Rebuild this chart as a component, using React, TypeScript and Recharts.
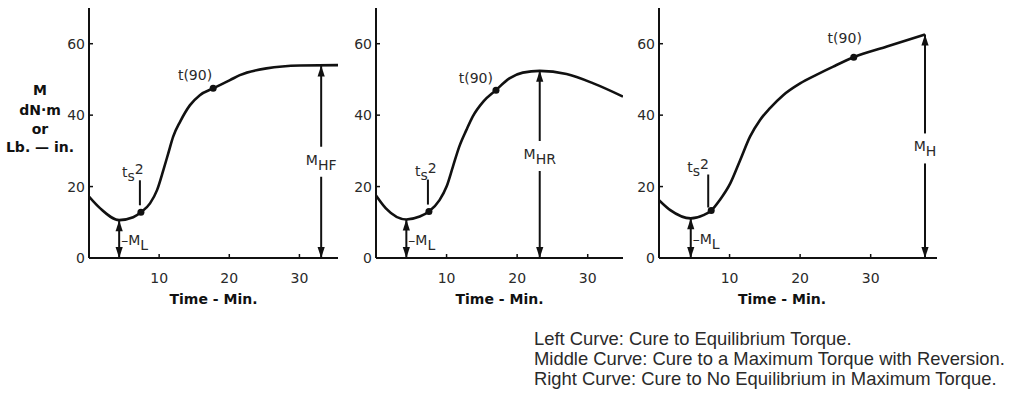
import React from "react";
import { LineChart, Line, XAxis, YAxis, ReferenceLine, ReferenceDot } from "recharts";

// left curve: cure to equilibrium torque
const timeLeft = [0, 1.6, 4.3, 6.3, 7.4, 8.7, 9.7, 10.6, 11.3, 12.0, 13.0, 14.4, 15.8, 17.7, 20.1, 21.5, 25.3, 30.1, 35.5];
const torqueLeft = [17.2, 13.9, 10.6, 11.4, 12.8, 15.3, 19.0, 24.6, 29.3, 34.0, 38.2, 42.8, 45.6, 47.5, 49.8, 51.2, 53.1, 53.9, 54];

// middle curve: maximum torque with reversion
const timeMid = [0, 1.4, 4.3, 6.2, 7.5, 9.0, 10.0, 10.9, 11.8, 12.8, 13.7, 15.2, 17.0, 18.9, 20.8, 23.2, 27, 30.8, 35];
const torqueMid = [17.5, 13.9, 10.8, 11.6, 13, 16.2, 20.0, 25.6, 31.2, 35.8, 39.6, 43.8, 47.0, 50.3, 51.9, 52.4, 51.5, 48.9, 45.2];

// right curve: no equilibrium
const timeRight = [0, 1.6, 4.5, 6.3, 7.4, 8.6, 10.1, 11.5, 12.9, 14.3, 15.7, 17.6, 20.0, 22.3, 24.7, 27.6, 32.3, 37.7];
const torqueRight = [16.2, 13.4, 11.1, 12, 13.3, 16.2, 20.9, 27.4, 34.0, 38.6, 41.9, 45.6, 48.9, 51.3, 53.6, 56.2, 59.2, 62.6];

const yTicks = [0, 20, 40, 60];
const xTicks = [10, 20, 30];
const timeMax = [35.5, 35, 39.4];

// [time, torque] of the marked points
const ts2Points = [[7.4, 12.8], [7.5, 13], [7.4, 13.3]];
const t90Points = [[17.7, 47.5], [17.0, 47.0], [27.6, 56.2]];
const minPoints = [[4.3, 10.6], [4.3, 10.8], [4.5, 11.1]];
const mhArrows = [[33.1, 53.9], [23.2, 52.4], [37.7, 62.6]];
const mhSubs = ["HF", "HR", "H"];

const yLabelLines = ["M", "dN·m", "or", "Lb. — in."];
const notes = [
  "Left Curve: Cure to Equilibrium Torque.",
  "Middle Curve: Cure to a Maximum Torque with Reversion.",
  "Right Curve: Cure to No Equilibrium in Maximum Torque.",
];

const series = [
  timeLeft.map((t, i) => ({ t, m: torqueLeft[i] })),
  timeMid.map((t, i) => ({ t, m: torqueMid[i] })),
  timeRight.map((t, i) => ({ t, m: torqueRight[i] })),
];

// pixel layout of each panel and its annotations
const panels = [
  { left: 55, width: 288, t90: { anchor: "end", dx: -1, dy: -8 }, ts2: { lx: -1, y1: -7, y2: -32, tx: -19, ty: -35 }, gap: 0.5, titleDx: 0 },
  { left: 342, width: 286, t90: { anchor: "end", dx: -3, dy: -7 }, ts2: { lx: -1, y1: -7, y2: -32, tx: -14, ty: -36 }, gap: 0.545, titleDx: 0 },
  { left: 625, width: 317, t90: { anchor: "middle", dx: -9, dy: -14 }, ts2: { lx: -3, y1: -3, y2: -36, tx: -24, ty: -39 }, gap: 0.49, titleDx: -16 },
];

const INK = "#111";
const TEXT = "#2a2a2a";
const FONT = "DejaVu Sans";

const head = (x: number, tipY: number, dir: number) => (
  <polygon
    points={`${x},${tipY} ${x - 3.6},${tipY - dir * 11} ${x + 3.6},${tipY - dir * 11}`}
    fill={INK}
  />
);

const XTick = ({ x, y, payload }: any) => (
  <g>
    <line x1={x} x2={x} y1={y} y2={y - 4} stroke={INK} strokeWidth={1.5} />
    <text x={x} y={y + 25} textAnchor="middle" fontSize={14} fill={TEXT} fontFamily={FONT}>
      {payload.value}
    </text>
  </g>
);

const YTick = ({ x, y, payload }: any) => (
  <g>
    <line x1={x} x2={x + 4} y1={y} y2={y} stroke={INK} strokeWidth={1.5} />
    <text x={x - 4} y={y + 5} textAnchor="end" fontSize={14} fill={TEXT} fontFamily={FONT}>
      {payload.value}
    </text>
  </g>
);

function Panel({ idx }: { idx: number }) {
  const p = panels[idx];
  const [tsT, tsM] = ts2Points[idx];
  const [t9T, t9M] = t90Points[idx];
  const [minT, minM] = minPoints[idx];
  const [mhT, mhM] = mhArrows[idx];

  return (
    <div style={{ position: "absolute", left: p.left, top: 0 }}>
      <LineChart width={p.width} height={308} data={series[idx]} margin={{ top: 8, right: 5, bottom: 0, left: 0 }}>
        <XAxis
          dataKey="t"
          type="number"
          domain={[0, timeMax[idx]]}
          ticks={xTicks}
          allowDataOverflow
          tickLine={false}
          tickSize={0}
          tickMargin={0}
          tick={XTick}
          axisLine={{ stroke: INK, strokeWidth: 2 }}
          height={50}
          label={{
            position: "insideBottom",
            content: (lp: any) => {
              const vb = lp.viewBox;
              return (
                <text
                  x={vb.x + vb.width / 2 + p.titleDx}
                  y={vb.y + 46}
                  textAnchor="middle"
                  fontSize={14}
                  fontWeight="bold"
                  fill={INK}
                  fontFamily={FONT}
                >
                  Time - Min.
                </text>
              );
            },
          }}
        />
        <YAxis
          type="number"
          domain={[0, 70]}
          ticks={yTicks}
          width={34}
          tickLine={false}
          tickSize={0}
          tickMargin={0}
          tick={YTick}
          axisLine={{ stroke: INK, strokeWidth: 2 }}
        />
        <Line
          dataKey="m"
          type="monotone"
          stroke={INK}
          strokeWidth={2.6}
          dot={false}
          isAnimationActive={false}
        />
        <ReferenceLine
          segment={[{ x: minT, y: 0 }, { x: minT, y: minM }]}
          shape={(s: any) => {
            const mid = (s.y1 + s.y2) / 2;
            return (
              <g>
                <line x1={s.x1} x2={s.x1} y1={s.y1} y2={s.y2} stroke={INK} strokeWidth={2} />
                {head(s.x1, s.y2, -1)}
                {head(s.x1, s.y1, 1)}
                <text x={s.x1 + 2} y={mid + 6} fontSize={14} fill={TEXT} fontFamily={FONT}>
                  –M<tspan dy={5}>L</tspan>
                </text>
              </g>
            );
          }}
        />
        <ReferenceLine
          segment={[{ x: mhT, y: 0 }, { x: mhT, y: mhM }]}
          shape={(s: any) => {
            const gy = s.y1 + (s.y2 - s.y1) * p.gap;
            return (
              <g>
                <line x1={s.x1} x2={s.x1} y1={s.y1} y2={gy + 15} stroke={INK} strokeWidth={2} />
                <line x1={s.x1} x2={s.x1} y1={gy - 15} y2={s.y2} stroke={INK} strokeWidth={2} />
                {head(s.x1, s.y2, -1)}
                {head(s.x1, s.y1, 1)}
                <text x={s.x1} y={gy + 3} textAnchor="middle" fontSize={14} fill={TEXT} fontFamily={FONT}>
                  M<tspan dy={5}>{mhSubs[idx]}</tspan>
                </text>
              </g>
            );
          }}
        />
        <ReferenceDot
          x={tsT}
          y={tsM}
          r={3.5}
          shape={(d: any) => (
            <g>
              <circle cx={d.cx} cy={d.cy} r={3.5} fill={INK} />
              <line
                x1={d.cx + p.ts2.lx}
                x2={d.cx + p.ts2.lx}
                y1={d.cy + p.ts2.y1}
                y2={d.cy + p.ts2.y2}
                stroke={INK}
                strokeWidth={2}
              />
              <text x={d.cx + p.ts2.tx} y={d.cy + p.ts2.ty} fontSize={14} fill={TEXT} fontFamily={FONT}>
                t<tspan dy={4}>s</tspan>
                <tspan dy={-7}>2</tspan>
              </text>
            </g>
          )}
        />
        <ReferenceDot
          x={t9T}
          y={t9M}
          r={3.5}
          shape={(d: any) => (
            <g>
              <circle cx={d.cx} cy={d.cy} r={3.5} fill={INK} />
              <text
                x={d.cx + p.t90.dx}
                y={d.cy + p.t90.dy}
                textAnchor={p.t90.anchor as any}
                fontSize={14}
                fill={TEXT}
                fontFamily={FONT}
              >
                t(90)
              </text>
            </g>
          )}
        />
      </LineChart>
    </div>
  );
}

export default function App() {
  const yLabelBase = [95, 115, 134, 152];
  const noteBase = [345, 365, 385];
  return (
    <div style={{ position: "absolute", left: 0, top: 0, width: 1024, height: 398, background: "#fff", overflow: "hidden" }}>
      {panels.map((_, i) => (
        <Panel key={i} idx={i} />
      ))}
      <svg width={1024} height={398} style={{ position: "absolute", left: 0, top: 0, pointerEvents: "none" }}>
        {yLabelLines.map((s, i) => (
          <text key={s} x={40} y={yLabelBase[i]} textAnchor="middle" fontSize={14} fontWeight="bold" fill={INK} fontFamily={FONT}>
            {s}
          </text>
        ))}
        {notes.map((s, i) => (
          <text key={s} x={534} y={noteBase[i]} fontSize={18.4} fill={TEXT} fontFamily="Liberation Sans">
            {s}
          </text>
        ))}
      </svg>
    </div>
  );
}
